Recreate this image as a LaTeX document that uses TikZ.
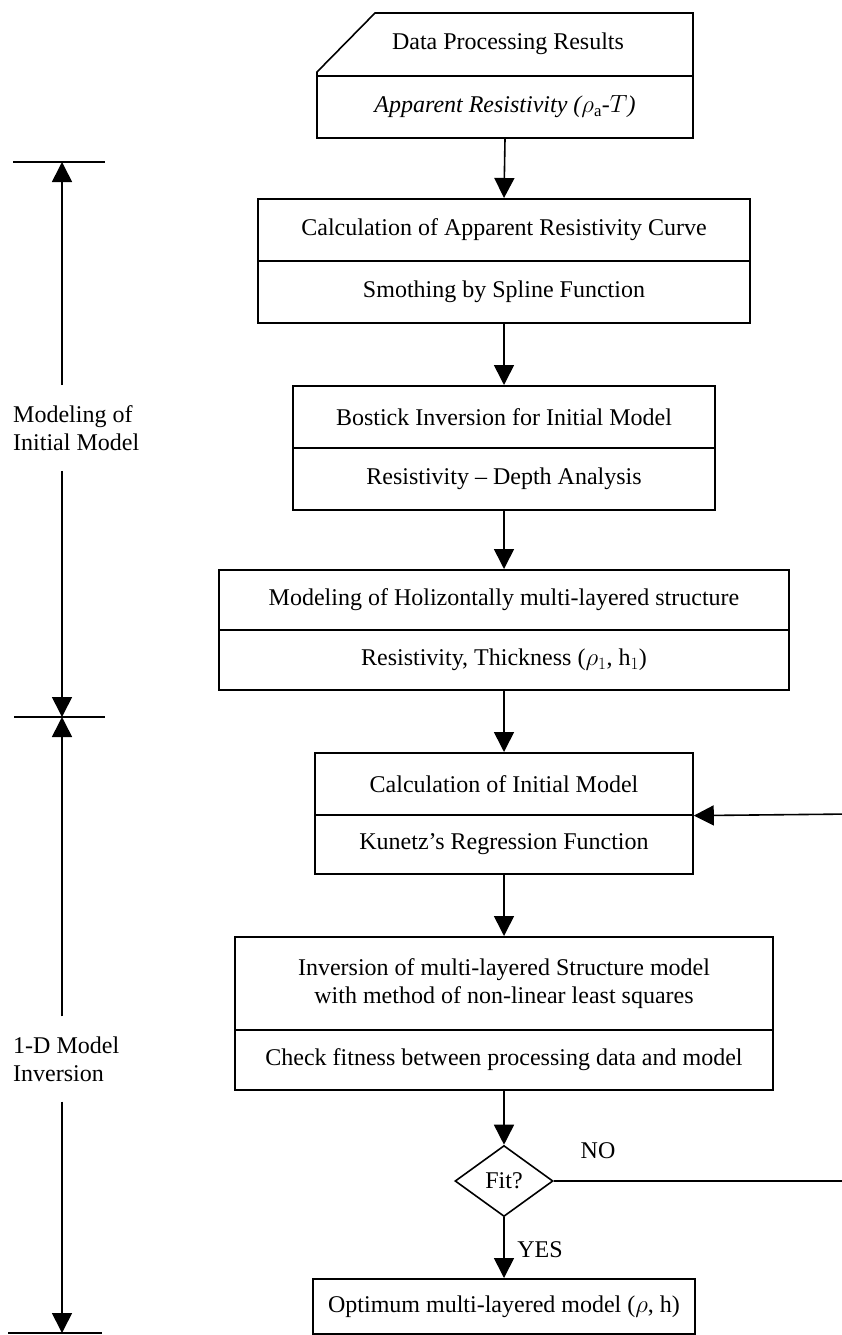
\documentclass[tikz,border=0pt]{standalone}
\usepackage{fontspec}
\setmainfont{Liberation Serif}
\usetikzlibrary{arrows.meta,shapes.geometric}
\begin{document}
\begin{tikzpicture}[x=1pt,y=-1pt,
  every node/.style={font=\fontsize{24}{28}\selectfont},
  line/.style={line width=1.6pt},
  arr/.style={line width=1.6pt,-{Triangle[length=20pt,width=20pt]}},
  part/.style={draw,line width=1.6pt,rectangle,inner sep=0pt,anchor=north},
  sidelab/.style={align=left,anchor=west,inner xsep=0pt,inner ysep=20pt},
]
\useasboundingbox (0,0) rectangle (841,1335);

% Box 1
\coordinate (c1) at (317,75);
\coordinate (c2) at (317,72);
\coordinate (c3) at (375,13);
\coordinate (c4) at (693,13);
\coordinate (c5) at (693,75);
\draw[line] (c1) -- (c2) -- (c3) -- (c4) -- (c5);
\node (b1t) at (508,44) {Data Processing Results};
\node[part,minimum width=376pt,minimum height=62pt] (b1b) at (505,75) {\itshape Apparent Resistivity ($\rho_{\mathrm{a}}$-$T$)};

% Box 2
\node[part,minimum width=492pt,minimum height=62pt] (b2t) at (504,198) {Calculation of Apparent Resistivity Curve};
\node[part,minimum width=492pt,minimum height=62pt] (b2b) at (504,260) {Smothing by Spline Function};

% Box 3
\node[part,minimum width=422pt,minimum height=62pt] (b3t) at (504,385) {Bostick Inversion for Initial Model};
\node[part,minimum width=422pt,minimum height=62pt] (b3b) at (504,447) {Resistivity -- Depth Analysis};

% Box 4
\node[part,minimum width=570pt,minimum height=60pt] (b4t) at (504,569) {Modeling of Holizontally multi-layered structure};
\node[part,minimum width=570pt,minimum height=60pt] (b4b) at (504,629) {Resistivity, Thickness ($\rho_1$, h$_1$)};

% Box 5
\node[part,minimum width=378pt,minimum height=62pt] (b5t) at (504,752) {Calculation of Initial Model};
\node[part,minimum width=378pt,minimum height=59pt] (b5b) at (504,814) {Kunetz's Regression Function};

% Box 6
\node[part,minimum width=538pt,minimum height=93pt,align=center] (b6t) at (504,936) {Inversion of multi-layered Structure model\\with method of non-linear least squares};
\node[part,minimum width=538pt,minimum height=60pt] (b6b) at (504,1029) {Check fitness between processing data and model};

% Decision
\node[diamond,draw,line width=1.6pt,minimum width=98pt,minimum height=71pt,inner sep=0pt] (dia) at (504,1181) {Fit?};

% Result
\node[part,minimum width=382pt,minimum height=55pt] (opt) at (504,1278) {Optimum multi-layered model ($\rho$, h)};

% main arrows
\draw[arr] (b1b.south) -- (b2t.north);
\draw[arr] (b2b.south) -- (b3t.north);
\draw[arr] (b3b.south) -- (b4t.north);
\draw[arr] (b4b.south) -- (b5t.north);
\draw[arr] (b5b.south) -- (b6t.north);
\draw[arr] (b6b.south) -- (dia.north);
\draw[arr] (dia.south) -- (opt.north);

% feedback loop (vertical part lies beyond the right edge)
\coordinate (fa) at (852,1181);
\coordinate (fb) at (852,814);
\draw[arr] (dia.east) -- (fa) -- (fb) -- (b5t.south east);

\node (no) at (598,1151) {NO};
\node (yes) at (540,1250) {YES};

% left scale
\coordinate (t1) at (62,162);
\coordinate (t2) at (62,717);
\coordinate (t3) at (62,1333);
\coordinate (k1a) at (13,162);
\coordinate (k1b) at (105,162);
\coordinate (k2a) at (14,717);
\coordinate (k2b) at (105,717);
\coordinate (k3a) at (8,1333);
\coordinate (k3b) at (102,1333);
\draw[line] (k1a) -- (k1b);
\draw[line] (k2a) -- (k2b);
\draw[line] (k3a) -- (k3b);

\node[sidelab] (lab1) at (13,428) {Modeling of\\Initial Model};
\node[sidelab] (lab2) at (13,1059) {1-D Model\\Inversion};

\draw[arr] (lab1.north -| t1) -- (t1);
\draw[arr] (lab1.south -| t1) -- (t2);
\draw[arr] (lab2.north -| t2) -- (t2);
\draw[arr] (lab2.south -| t3) -- (t3);
\end{tikzpicture}
\end{document}
